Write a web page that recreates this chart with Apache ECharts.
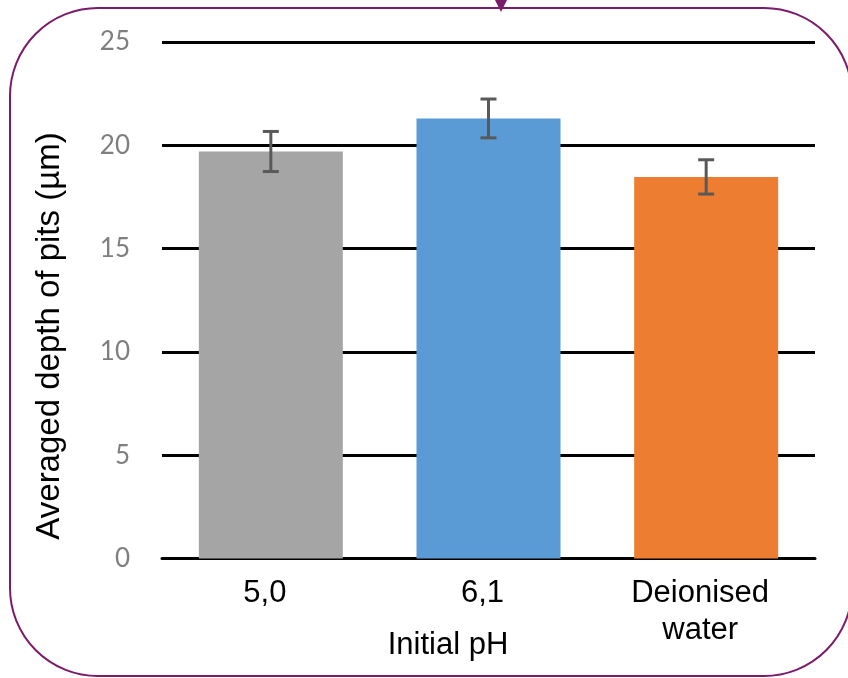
<!DOCTYPE html>
<html>
<head>
<meta charset="utf-8">
<script src="https://cdn.jsdelivr.net/npm/echarts@6/dist/echarts.min.js"></script>
<style>
html,body{margin:0;padding:0;background:#fff;}
#chart{width:848px;height:678px;}
</style>
</head>
<body>
<div id="chart"></div>
<script>
const categories = ['5,0', '6,1', 'Deionised\nwater'];
const depths = [19.7, 21.3, 18.47];
const errors = [0.97, 0.94, 0.83];
const barColors = ['#A5A5A5', '#5B9BD5', '#ED7D31'];
const yTicks = [0, 5, 10, 15, 20, 25];

const chart = echarts.init(document.getElementById('chart'), null, {renderer: 'canvas'});

const errData = categories.map((c, i) => [i, depths[i] - errors[i], depths[i] + errors[i]]);

chart.setOption({
  animation: false,
  backgroundColor: '#fff',
  grid: {left: 162, right: 33, top: 42, bottom: 119.5},
  xAxis: {
    type: 'category',
    data: categories,
    axisLine: {show: true, lineStyle: {color: '#000', width: 3}},
    axisTick: {show: false},
    axisLabel: {
      color: '#000', fontFamily: 'Liberation Sans', fontSize: 31,
      lineHeight: 37, margin: 16, padding: [0, 12, 0, 0]
    }
  },
  yAxis: {
    type: 'value',
    min: yTicks[0], max: yTicks[yTicks.length - 1], interval: 5,
    axisLine: {show: false},
    axisTick: {show: false},
    splitLine: {show: true, lineStyle: {color: '#000', width: 3}},
    axisLabel: {color: '#7f7f7f', fontFamily: 'Lato', fontSize: 26, margin: 32}
  },
  series: [
    {
      type: 'bar',
      barWidth: 144,
      data: depths.map((v, i) => ({value: v, itemStyle: {color: barColors[i]}})),
      z: 2
    },
    {
      type: 'custom',
      z: 5,
      data: errData,
      renderItem: function (params, api) {
        const x = api.value(0);
        const lo = api.coord([x, api.value(1)]);
        const hi = api.coord([x, api.value(2)]);
        const hw = 8;
        const style = {stroke: '#595959', lineWidth: 3, fill: null};
        return {
          type: 'group',
          children: [
            {type: 'line', shape: {x1: lo[0], y1: lo[1], x2: hi[0], y2: hi[1]}, style: style},
            {type: 'line', shape: {x1: lo[0] - hw, y1: lo[1], x2: lo[0] + hw, y2: lo[1]}, style: style},
            {type: 'line', shape: {x1: hi[0] - hw, y1: hi[1], x2: hi[0] + hw, y2: hi[1]}, style: style}
          ]
        };
      }
    }
  ],
  graphic: [
    {
      type: 'rect', z: 100,
      shape: {x: 10, y: 8, width: 842, height: 668, r: 88},
      style: {fill: null, stroke: '#7B1B6B', lineWidth: 2}
    },
    {
      type: 'polygon', z: 101,
      shape: {points: [[495, 0], [507, 0], [501, 12]]},
      style: {fill: '#7B1B6B'}
    },
    {
      type: 'text', z: 100,
      x: 50, y: 336, rotation: Math.PI / 2,
      style: {
        text: 'Averaged depth of pits (µm)',
        fill: '#000', font: '33px "Liberation Sans"',
        align: 'center', verticalAlign: 'middle'
      }
    },
    {
      type: 'text', z: 100,
      x: 448, y: 645,
      style: {
        text: 'Initial pH',
        fill: '#000', font: '31px "Liberation Sans"',
        align: 'center', verticalAlign: 'middle'
      }
    }
  ]
});
</script>
</body>
</html>
